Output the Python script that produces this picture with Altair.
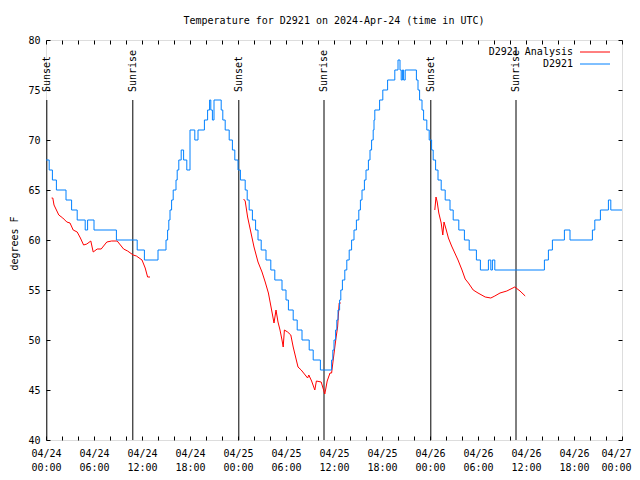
import json
import altair as alt
import pandas as pd

TITLE = "Temperature for D2921 on 2024-Apr-24 (time in UTC)"
DAY_LABELS = ["04/24", "04/25", "04/26", "04/27"]
SERIES = ["D2921 Analysis", "D2921"]
COLORS = ["#ff0000", "#0080ff"]

# hours since 2024-04-24 00:00 UTC
OBS_HOURS = [0.0, 0.4, 0.8, 1.3, 2.5, 3.2, 3.9, 4.9, 5.2, 6.0, 8.8, 11.4, 12.3, 14.0,
             15.0, 15.2, 15.35, 15.5, 15.7, 15.9, 16.25, 16.4, 16.6, 16.9, 17.2, 17.6,
             18.0, 18.6, 19.0, 19.8, 20.2, 20.45, 20.6, 20.8, 21.0, 21.9, 22.1, 22.4,
             22.9, 23.3, 23.6, 24.0, 24.3, 24.9, 25.15, 25.4, 25.8, 26.2, 26.5, 26.9,
             27.5, 28.1, 28.6, 29.5, 30.0, 30.3, 30.9, 31.4, 32.0, 32.9, 33.4, 34.3,
             35.7, 35.85, 36.0, 36.2, 36.35, 36.5, 36.7, 36.85, 37.05, 37.35, 37.6,
             37.9, 38.2, 38.5, 38.8, 39.1, 39.3, 39.5, 39.8, 40.0, 40.3, 40.5, 40.7,
             40.9, 41.0, 41.1, 41.7, 42.1, 42.7, 43.6, 44.0, 44.25, 44.4, 44.55, 44.7,
             44.9, 46.3, 46.5, 46.7, 47.0, 47.2, 47.6, 47.9, 48.2, 48.4, 48.7, 49.0,
             49.4, 49.9, 50.5, 50.9, 51.6, 52.3, 52.9, 53.8, 54.3, 55.3, 55.6, 55.8,
             56.1, 62.3, 62.8, 63.3, 64.8, 65.5, 68.3, 68.6, 69.3, 70.3, 70.6, 72.0]
OBS_TEMPS = [68, 67, 66, 65, 64, 63, 62, 61, 62, 61, 60, 59, 58, 59,
             60, 61, 62, 63, 64, 65, 66, 67, 68, 69, 68, 67,
             71, 70, 71, 72, 73, 74, 73, 72, 74, 73, 72, 71,
             70, 69, 68, 67, 66, 65, 64, 63, 62, 61, 60, 59,
             58, 57, 56, 55, 54, 53, 52, 51, 50, 49, 48, 47,
             48, 49, 50, 51, 52, 53, 54, 55, 56, 57, 58,
             59, 60, 61, 62, 63, 64, 65, 66, 67, 68, 69, 70,
             71, 72, 73, 74, 75, 76, 77, 78, 77, 76, 77, 76,
             77, 76, 75, 74, 73, 72, 71, 70, 69, 68, 67, 66,
             65, 64, 63, 62, 61, 60, 59, 58, 57, 58, 57, 58,
             57, 58, 59, 60, 61, 60, 61, 62, 63, 64, 63, 63]

ANA_SEGMENT = [1] * 27 + [2] * 40 + [3] * 25
ANA_HOURS = [0.7, 0.85, 1.0, 1.6, 2.1, 2.6, 3.0, 3.4, 3.9, 4.3, 4.7, 5.1, 5.6, 5.9,
             6.4, 6.9, 7.6, 8.2, 8.9, 9.7, 10.2, 10.9, 11.3, 12.0, 12.4, 12.7, 13.0,
             24.7, 24.9, 25.2, 25.6, 26.0, 26.5, 27.0, 27.4, 27.8, 28.2, 28.5, 28.75,
             29.0, 29.25, 29.5, 29.65, 29.8, 30.2, 30.6, 30.9, 31.2, 31.5, 31.9, 32.4,
             32.7, 32.85, 33.2, 33.6, 33.8, 34.4, 34.7, 34.85, 35.15, 35.5, 35.7, 35.9,
             36.25, 36.45, 36.65, 36.85,
             48.6, 48.75, 48.9, 49.1, 49.4, 49.6, 49.75, 50.0, 50.3, 50.7, 51.1, 51.5,
             52.0, 52.4, 52.8, 53.4, 54.0, 54.9, 55.6, 56.1, 56.75, 57.6, 58.6, 59.25,
             59.9]
ANA_TEMPS = [64.2, 64.2, 63.5, 62.5, 62.2, 61.8, 61.7, 61.0, 60.8, 60.2, 59.5, 59.6,
             59.9, 58.8, 59.1, 59.1, 59.8, 59.9, 59.9, 59.1, 58.9, 58.5, 58.4, 58.0,
             57.2, 56.3, 56.3,
             64.1, 63.9, 62.3, 60.8, 59.3, 57.8, 56.8, 55.8, 54.7, 53.0, 51.7, 53.0,
             51.8, 51.0, 50.0, 49.3, 51.0, 50.8, 50.5, 49.3, 48.3, 47.3, 47.0, 46.5,
             46.2, 46.5, 45.9, 45.0, 45.9, 45.8, 45.0, 44.6, 45.9, 46.7, 46.7, 48.0,
             50.2, 51.3, 53.7, 53.7,
             63.0, 64.3, 63.8, 62.7, 61.7, 60.5, 61.8, 61.1, 60.2, 59.4, 58.7, 58.0,
             57.0, 56.1, 55.7, 55.0, 54.7, 54.3, 54.2, 54.4, 54.7, 54.9, 55.3, 54.9,
             54.4]

SUN_HOURS = [0.1, 10.85, 24.1, 34.75, 48.1, 58.75]
SUN_EVENTS = ["Sunset", "Sunrise", "Sunset", "Sunrise", "Sunset", "Sunrise"]

FONT = "DejaVu Sans Mono"

obs = pd.DataFrame({"h": OBS_HOURS, "t": OBS_TEMPS, "series": SERIES[1]})
ana = pd.DataFrame({"h": ANA_HOURS, "t": ANA_TEMPS, "seg": ANA_SEGMENT, "series": SERIES[0]})
sun = pd.DataFrame({"h": SUN_HOURS, "event": SUN_EVENTS})

xscale = alt.Scale(domain=[0, 72], nice=False, zero=False)
yscale = alt.Scale(domain=[40, 80], nice=False, zero=False)
color = alt.Color(
    "series:N",
    scale=alt.Scale(domain=SERIES, range=COLORS),
    legend=alt.Legend(
        title=None, orient="none", legendX=544, legendY=7, padding=0,
        labelAlign="right", labelOffset={"expr": "-27"}, labelBaseline="middle",
        labelFont=FONT, labelFontSize=10, labelColor="black",
        symbolType="M-5,0H5", symbolSize=36, symbolStrokeWidth=1,
        symbolOffset=0, rowPadding=2,
    ),
)

tick_hours = list(range(0, 73, 2))
label_expr = (
    "datum.value % 6 == 0 ? [" + json.dumps(DAY_LABELS) +
    "[floor(datum.value / 24)], pad(datum.value % 24, 2, '0', 'left') + ':00'] : ''"
)
NEG4 = {"expr": "-4"}

rules = alt.Chart(sun).mark_rule(color="black", strokeWidth=1).encode(
    x=alt.X("h:Q", scale=xscale,
            axis=alt.Axis(orient="top", values=tick_hours, tickSize=4, offset=NEG4,
                          labels=False, domain=False, grid=False, title=None,
                          tickColor="black")),
    y=alt.Y(datum=74, scale=yscale,
            axis=alt.Axis(orient="right", values=list(range(40, 81, 5)), tickSize=4,
                          offset=NEG4, labels=False, domain=False, grid=False, title=None,
                          tickColor="black")),
    y2=alt.Y2(datum=40),
)

texts = alt.Chart(sun).mark_text(
    angle=270, align="left", baseline="middle", font=FONT, fontSize=10, color="black"
).encode(
    x=alt.X("h:Q", scale=xscale, axis=None),
    y=alt.Y(datum=74.8, scale=yscale, axis=None),
    text="event:N",
)

red = alt.Chart(ana).mark_line(strokeWidth=1).encode(
    x=alt.X("h:Q", scale=xscale, axis=None),
    y=alt.Y("t:Q", scale=yscale, axis=None),
    color=color,
    detail="seg:N",
)

blue = alt.Chart(obs).mark_line(strokeWidth=1, interpolate="step-after").encode(
    x=alt.X("h:Q", scale=xscale,
            axis=alt.Axis(orient="bottom", values=tick_hours, tickSize=4, offset=NEG4,
                          domain=False, grid=False, title=None, labelExpr=label_expr,
                          labelFont=FONT, labelFontSize=10, labelColor="black",
                          labelPadding=8, labelLineHeight=14, labelBaseline="top",
                          labelOffset={"condition": {"test": "datum.value == 72", "value": -6},
                                       "value": 0},
                          labelOverlap=False, labelFlush=False, tickColor="black")),
    y=alt.Y("t:Q", scale=yscale,
            axis=alt.Axis(orient="left", values=list(range(40, 81, 5)), tickSize=4,
                          offset=NEG4, domain=False, grid=False, title="degrees F",
                          labelFont=FONT, labelFontSize=10, labelColor="black",
                          labelPadding=6, tickColor="black",
                          titleFont=FONT, titleFontSize=10, titleFontWeight="normal",
                          titleColor="black", titleX=-36, titleY=203,
                          titleBaseline="middle")),
    color=color,
)

chart = alt.layer(rules, texts, red, blue).resolve_axis(
    x="independent", y="independent"
).properties(
    width=576, height=400,
    autosize=alt.AutoSizeParams(type="none"),
    padding={"left": 38, "top": 32, "right": 10, "bottom": 32},
    title=alt.TitleParams(text=TITLE, font=FONT, fontSize=10, fontWeight="normal",
                          anchor="middle", offset=9, color="black"),
).configure_view(stroke="black", strokeWidth=1).configure(background="white")

chart.save("out.html", embed_options={"renderer": "svg", "actions": False})
